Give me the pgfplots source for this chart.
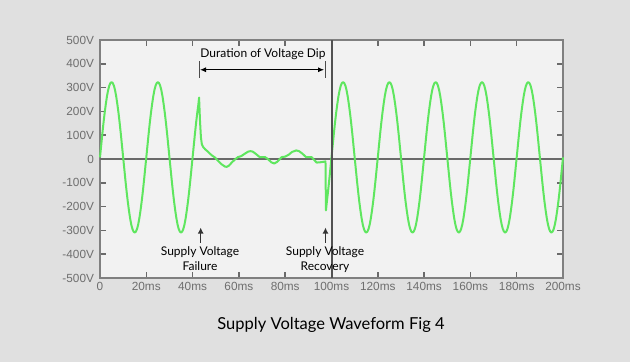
\documentclass[border=0pt]{standalone}
\usepackage{fontspec}
\setmainfont{Lato}
\newfontfamily\tickfont{Liberation Sans}
\usepackage{pgfplots}
\pgfplotsset{compat=1.18}
\usetikzlibrary{arrows.meta}
\definecolor{bgc}{HTML}{E0E0E0}
\definecolor{plotbg}{HTML}{F2F2F2}
\definecolor{wave}{HTML}{5FE65F}
\definecolor{framec}{HTML}{808080}
\definecolor{tickc}{HTML}{6A6A6A}
\definecolor{ticklab}{HTML}{6E6E6E}
\begin{document}
\begin{tikzpicture}
\useasboundingbox (0,0) rectangle (630bp,362bp);
\fill[bgc] (0,0) rectangle (630bp,362bp);
\begin{axis}[
  at={(100bp,84bp)}, anchor=south west, scale only axis,
  width=463bp, height=238bp,
  xmin=0, xmax=200, ymin=-500, ymax=500,
  axis background/.style={fill=plotbg},
  axis line style={framec, line width=1.5bp},
  xtick={0,20,...,200}, ytick={-500,-400,...,500},
  xticklabels={0,20ms,40ms,60ms,80ms,100ms,120ms,140ms,160ms,180ms,200ms},
  yticklabels={-500V,-400V,-300V,-200V,-100V,0,100V,200V,300V,400V,500V},
  tick align=inside, xtick pos=both, ytick pos=both,
  major tick length=6bp,
  every tick/.style={tickc, line width=1.5bp},
  tick label style={font=\tickfont\fontsize{11.8bp}{12bp}\selectfont, text=ticklab},
  yticklabel style={xshift=-2.5bp},
  xticklabel style={yshift=-0.5bp},
  clip=false,
]
\draw[tickc, line width=1.6bp] (axis cs:0,0) -- (axis cs:200,0);
\addplot[wave, line width=2bp, no marks, line join=round] table {
t v
0 7
0.5 56
1 105
1.5 151
2 193
2.5 230
3 263
3.5 289
4 308
4.5 319
5 323
5.5 319
6 308
6.5 289
7 263
7.5 230
8 193
8.5 151
9 105
9.5 56
10 7
10.5 -42
11 -91
11.5 -137
12 -179
12.5 -216
13 -249
13.5 -275
14 -294
14.5 -305
15 -309
15.5 -305
16 -294
16.5 -275
17 -249
17.5 -216
18 -179
18.5 -137
19 -91
19.5 -42
20 7
20.5 56
21 105
21.5 151
22 193
22.5 230
23 263
23.5 289
24 308
24.5 319
25 323
25.5 319
26 308
26.5 289
27 263
27.5 230
28 193
28.5 151
29 105
29.5 56
30 7
30.5 -42
31 -91
31.5 -137
32 -179
32.5 -216
33 -249
33.5 -275
34 -294
34.5 -305
35 -309
35.5 -305
36 -294
36.5 -275
37 -249
37.5 -216
38 -179
38.5 -137
39 -91
39.5 -42
40 7
40.5 56
41 105
41.5 151
42 193
42.5 230
42.8 258
43.2 160
43.6 90
44 62
44.6 50
45.5 40
46.5 32
47.5 22
48.5 14
49.7 6
51 -8
52.5 -22
54 -32
54.7 -33
55.7 -28
57 -14
58.5 0
59.6 8
61 12
62.5 22
64 31
65 33
66 31
67.5 20
69 8
71.3 8
72.5 0
74 -14
75.3 -19
76.5 -12
78.5 8
80 10
81.5 18
83 30
84.8 36
86 33
87.5 22
89 8
91.4 8
92.5 -4
93.6 -15
95 -14
96.5 -12
97.4 -10
97.6 -216
98 -179
98.5 -137
99 -91
99.5 -42
100 7
100.5 56
101 105
101.5 151
102 193
102.5 230
103 263
103.5 289
104 308
104.5 319
105 323
105.5 319
106 308
106.5 289
107 263
107.5 230
108 193
108.5 151
109 105
109.5 56
110 7
110.5 -42
111 -91
111.5 -137
112 -179
112.5 -216
113 -249
113.5 -275
114 -294
114.5 -305
115 -309
115.5 -305
116 -294
116.5 -275
117 -249
117.5 -216
118 -179
118.5 -137
119 -91
119.5 -42
120 7
120.5 56
121 105
121.5 151
122 193
122.5 230
123 263
123.5 289
124 308
124.5 319
125 323
125.5 319
126 308
126.5 289
127 263
127.5 230
128 193
128.5 151
129 105
129.5 56
130 7
130.5 -42
131 -91
131.5 -137
132 -179
132.5 -216
133 -249
133.5 -275
134 -294
134.5 -305
135 -309
135.5 -305
136 -294
136.5 -275
137 -249
137.5 -216
138 -179
138.5 -137
139 -91
139.5 -42
140 7
140.5 56
141 105
141.5 151
142 193
142.5 230
143 263
143.5 289
144 308
144.5 319
145 323
145.5 319
146 308
146.5 289
147 263
147.5 230
148 193
148.5 151
149 105
149.5 56
150 7
150.5 -42
151 -91
151.5 -137
152 -179
152.5 -216
153 -249
153.5 -275
154 -294
154.5 -305
155 -309
155.5 -305
156 -294
156.5 -275
157 -249
157.5 -216
158 -179
158.5 -137
159 -91
159.5 -42
160 7
160.5 56
161 105
161.5 151
162 193
162.5 230
163 263
163.5 289
164 308
164.5 319
165 323
165.5 319
166 308
166.5 289
167 263
167.5 230
168 193
168.5 151
169 105
169.5 56
170 7
170.5 -42
171 -91
171.5 -137
172 -179
172.5 -216
173 -249
173.5 -275
174 -294
174.5 -305
175 -309
175.5 -305
176 -294
176.5 -275
177 -249
177.5 -216
178 -179
178.5 -137
179 -91
179.5 -42
180 7
180.5 56
181 105
181.5 151
182 193
182.5 230
183 263
183.5 289
184 308
184.5 319
185 323
185.5 319
186 308
186.5 289
187 263
187.5 230
188 193
188.5 151
189 105
189.5 56
190 7
190.5 -42
191 -91
191.5 -137
192 -179
192.5 -216
193 -249
193.5 -275
194 -294
194.5 -305
195 -309
195.5 -305
196 -294
196.5 -275
197 -249
197.5 -216
198 -179
198.5 -137
199 -91
199.5 -42
200 7
};
\draw[black!68, line width=2bp] (axis cs:100,-500) -- (axis cs:100,500);
% Duration of voltage dip
\node[anchor=base, font=\fontsize{12bp}{14bp}\selectfont] at (axis cs:70.4,426) {Duration of Voltage Dip};
\draw[black, line width=1bp, {Latex[length=6bp,width=5bp]}-{Latex[length=6bp,width=5bp]}] (axis cs:43.2,375) -- (axis cs:96.8,375);
\draw[black!70, line width=1bp] (axis cs:42.8,411) -- (axis cs:42.8,340);
\draw[black!70, line width=1bp] (axis cs:97.2,411) -- (axis cs:97.2,340);
% failure / recovery arrows
\draw[black!80, line width=1.3bp, -{Latex[length=6bp,width=6bp]}] (axis cs:43.5,-352) -- (axis cs:43.5,-288);
\draw[black!80, line width=1.3bp, -{Latex[length=6bp,width=6bp]}] (axis cs:97.4,-352) -- (axis cs:97.4,-288);
\node[anchor=base, font=\fontsize{12bp}{14bp}\selectfont] at (axis cs:43.2,-407) {Supply Voltage};
\node[anchor=base, font=\fontsize{12bp}{14bp}\selectfont] at (axis cs:43.2,-469) {Failure};
\node[anchor=base, font=\fontsize{12bp}{14bp}\selectfont] at (axis cs:97.2,-407) {Supply Voltage};
\node[anchor=base, font=\fontsize{12bp}{14bp}\selectfont] at (axis cs:97.2,-469) {Recovery};
\end{axis}
\node[anchor=base, font=\fontsize{16.5bp}{18bp}\selectfont] at (331bp,33bp) {Supply Voltage Waveform Fig 4};
\end{tikzpicture}
\end{document}
